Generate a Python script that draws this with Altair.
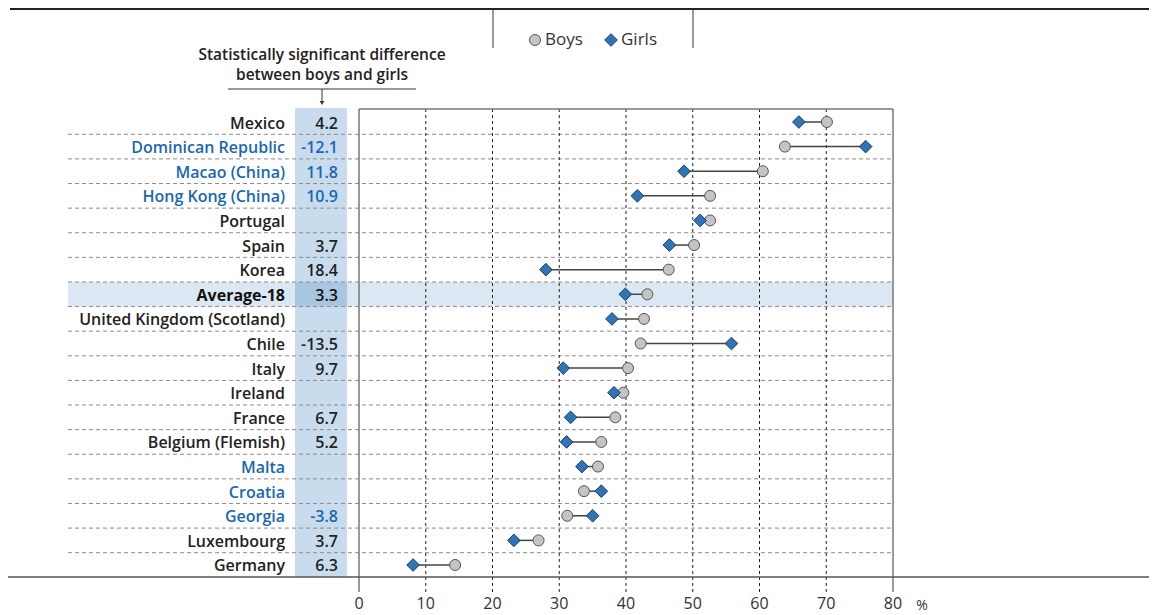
import altair as alt
import pandas as pd

# ---------------- data ----------------
countries = ["Mexico", "Dominican Republic", "Macao (China)", "Hong Kong (China)", "Portugal",
             "Spain", "Korea", "Average-18", "United Kingdom (Scotland)", "Chile", "Italy",
             "Ireland", "France", "Belgium (Flemish)", "Malta", "Croatia", "Georgia",
             "Luxembourg", "Germany"]
boys = [70.1, 63.8, 60.5, 52.6, 52.6, 50.2, 46.4, 43.2, 42.7, 42.2, 40.3, 39.6, 38.4, 36.3,
        35.8, 33.7, 31.2, 26.9, 14.4]
girls = [65.9, 75.9, 48.7, 41.7, 51.1, 46.5, 28.0, 39.9, 37.9, 55.8, 30.6, 38.2, 31.7, 31.1,
         33.4, 36.3, 35.0, 23.2, 8.1]
diffs = ["4.2", "-12.1", "11.8", "10.9", "", "3.7", "18.4", "3.3", "", "-13.5", "9.7", "",
         "6.7", "5.2", "", "", "-3.8", "3.7", "6.3"]
partner_countries = ["Dominican Republic", "Macao (China)", "Hong Kong (China)", "Malta",
                     "Croatia", "Georgia"]
average_label = "Average-18"
x_ticks = [0, 10, 20, 30, 40, 50, 60, 70, 80]
legend_labels = ["Boys", "Girls"]
note_lines = ["Statistically significant difference", "between boys and girls"]

rows = []
for c, b, g, d in zip(countries, boys, girls, diffs):
    kind = "partner" if c in partner_countries else ("average" if c == average_label else "oecd")
    rows.append({"country": c, "boys": b, "girls": g, "diff": d, "kind": kind})
df = pd.DataFrame(rows)
ticks_df = pd.DataFrame({"tick": x_ticks})
one = alt.Data(values=[{"a": 1}])

# ---------------- layout ----------------
W, H = 1141, 606
X0, PX = 351.0, 534.0 / 80.0
xs = alt.Scale(domain=[-X0 / PX, (W - X0) / PX], nice=False, zero=False)
ys = alt.Scale(domain=countries, range=[101.7, 569.3], paddingInner=0, paddingOuter=0)
Y = alt.Y("country:N", scale=ys, axis=None)
FONT = "Open Sans"
BLUE_TXT = "#1a68b2"
color_scale = alt.Scale(domain=["oecd", "partner", "average"], range=["#222222", BLUE_TXT, "#111111"])

base = alt.Chart(df)

avg_band = base.transform_filter(alt.datum.kind == "average").mark_rect(color="#dbe7f2").encode(
    y=Y, x=alt.value(60), x2=alt.value(885))

diff_col = alt.Chart(one).mark_rect(color="#c9dcee").encode(
    x=alt.value(287), x2=alt.value(339), y=alt.value(100), y2=alt.value(569))

avg_cell = base.transform_filter(alt.datum.kind == "average").mark_rect(color="#a9c6e1").encode(
    y=Y, x=alt.value(287), x2=alt.value(339))

separators = base.transform_filter(alt.datum.country != countries[-1]).mark_rule(
    strokeDash=[4, 3], color="#8a8a8a", strokeWidth=1).encode(
    y=alt.Y("country:N", scale=ys, axis=None, bandPosition=1),
    x=alt.value(60), x2=alt.value(885))

grid = alt.Chart(ticks_df).transform_filter(
    (alt.datum.tick > x_ticks[0]) & (alt.datum.tick < x_ticks[-1])).mark_rule(
    strokeDash=[3, 3], color="#222222", strokeWidth=1).encode(
    x=alt.X("tick:Q", scale=xs, axis=None), y=alt.value(101), y2=alt.value(584))

frame_sides = alt.Chart(ticks_df).transform_filter(
    (alt.datum.tick == x_ticks[0]) | (alt.datum.tick == x_ticks[-1])).mark_rule(
    color="#777777", strokeWidth=1.5).encode(
    x=alt.X("tick:Q", scale=xs, axis=None), y=alt.value(101), y2=alt.value(584))

frame_top = alt.Chart(one).mark_rule(color="#777777", strokeWidth=1.5).encode(
    x=alt.X(datum=x_ticks[0], scale=xs, axis=None), x2=alt.X2(datum=x_ticks[-1]),
    y=alt.value(101))

axis_line = alt.Chart(one).mark_rule(color="#555555", strokeWidth=1.5).encode(
    x=alt.value(0), x2=alt.value(W), y=alt.value(569))

top_line = alt.Chart(one).mark_rule(color="#222222", strokeWidth=2).encode(
    x=alt.value(2), x2=alt.value(W), y=alt.value(1))

tick_labels = alt.Chart(ticks_df).mark_text(
    fontSize=16, color="#333333", font=FONT, baseline="middle").encode(
    x=alt.X("tick:Q", scale=xs, axis=None), y=alt.value(596), text="tick:Q")

pct = alt.Chart(one).mark_text(fontSize=14, color="#333333", font=FONT, baseline="middle",
                               text="%").encode(x=alt.value(914), y=alt.value(598))

bars = base.mark_rule(color="#444444", strokeWidth=1.5).encode(
    x=alt.X("girls:Q", scale=xs, axis=None), x2="boys:Q", y=Y)

boys_pts = base.mark_point(shape="circle", filled=True, fill="#c4c4c4", stroke="#555555",
                           strokeWidth=1, size=121, opacity=1).encode(
    x=alt.X("boys:Q", scale=xs, axis=None), y=Y)

girls_pts = base.mark_point(shape="diamond", filled=True, fill="#2f75b5", stroke="#1b3f63",
                            strokeWidth=1, size=160, opacity=1).encode(
    x=alt.X("girls:Q", scale=xs, axis=None), y=Y)

country_lbl = base.transform_filter(alt.datum.kind != "average").mark_text(
    align="right", baseline="middle", fontSize=16, fontWeight=600, font=FONT, dy=1.5).encode(
    x=alt.value(277), y=Y, text="country:N",
    color=alt.Color("kind:N", scale=color_scale, legend=None))

avg_lbl = base.transform_filter(alt.datum.kind == "average").mark_text(
    align="right", baseline="middle", fontSize=16, fontWeight="bold", font=FONT, dy=1.5,
    color="#111111").encode(x=alt.value(277), y=Y, text="country:N")

diff_lbl = base.mark_text(align="right", baseline="middle", fontSize=16, fontWeight=600,
                          font=FONT, dy=1.5).encode(
    x=alt.value(330), y=Y, text="diff:N",
    color=alt.Color("kind:N", scale=color_scale, legend=None))

# legend
leg_lines = alt.Chart(pd.DataFrame({"px": [485, 685]})).mark_rule(
    color="#333333", strokeWidth=1).encode(
    x=alt.X("px:Q", scale=None), y=alt.value(0), y2=alt.value(40))
leg_circle = alt.Chart(one).mark_point(shape="circle", filled=True, fill="#c4c4c4",
                                       stroke="#555555", strokeWidth=1, size=121, opacity=1).encode(
    x=alt.value(527), y=alt.value(32))
leg_diamond = alt.Chart(one).mark_point(shape="diamond", filled=True, fill="#2f75b5",
                                        stroke="#1b3f63", strokeWidth=1, size=160, opacity=1).encode(
    x=alt.value(603), y=alt.value(32))
leg_text = alt.Chart(pd.DataFrame({"label": legend_labels, "px": [537, 613]})).mark_text(
    align="left", baseline="middle", fontSize=17, color="#333333", font=FONT).encode(
    x=alt.X("px:Q", scale=None), y=alt.value(32), text="label:N")

# annotation
note = alt.Chart(pd.DataFrame({"line": note_lines, "py": [47, 67]})).mark_text(
    align="center", baseline="middle", fontSize=15.5, fontWeight=600, color="#222222",
    font=FONT).encode(x=alt.value(314), y=alt.Y("py:Q", scale=None), text="line:N")
note_rule = alt.Chart(one).mark_rule(color="#333333", strokeWidth=1).encode(
    x=alt.value(220), x2=alt.value(408), y=alt.value(81))
arrow_shaft = alt.Chart(one).mark_rule(color="#333333", strokeWidth=1).encode(
    x=alt.value(314), y=alt.value(81), y2=alt.value(94))
arrow_head = alt.Chart(one).mark_point(shape="triangle-down", filled=True, color="#333333",
                                       size=22, opacity=1).encode(
    x=alt.value(314), y=alt.value(95))

chart = alt.layer(
    avg_band, diff_col, avg_cell, separators, grid, frame_sides, frame_top, axis_line, top_line,
    tick_labels, pct, bars, boys_pts, girls_pts, country_lbl, avg_lbl, diff_lbl,
    leg_lines, leg_circle, leg_diamond, leg_text, note, note_rule, arrow_shaft, arrow_head
).properties(width=W, height=H, padding=0, autosize="none").configure_view(
    strokeWidth=0).resolve_scale(color="shared")

chart.save("out.html", embed_options={"renderer": "svg", "actions": False})
